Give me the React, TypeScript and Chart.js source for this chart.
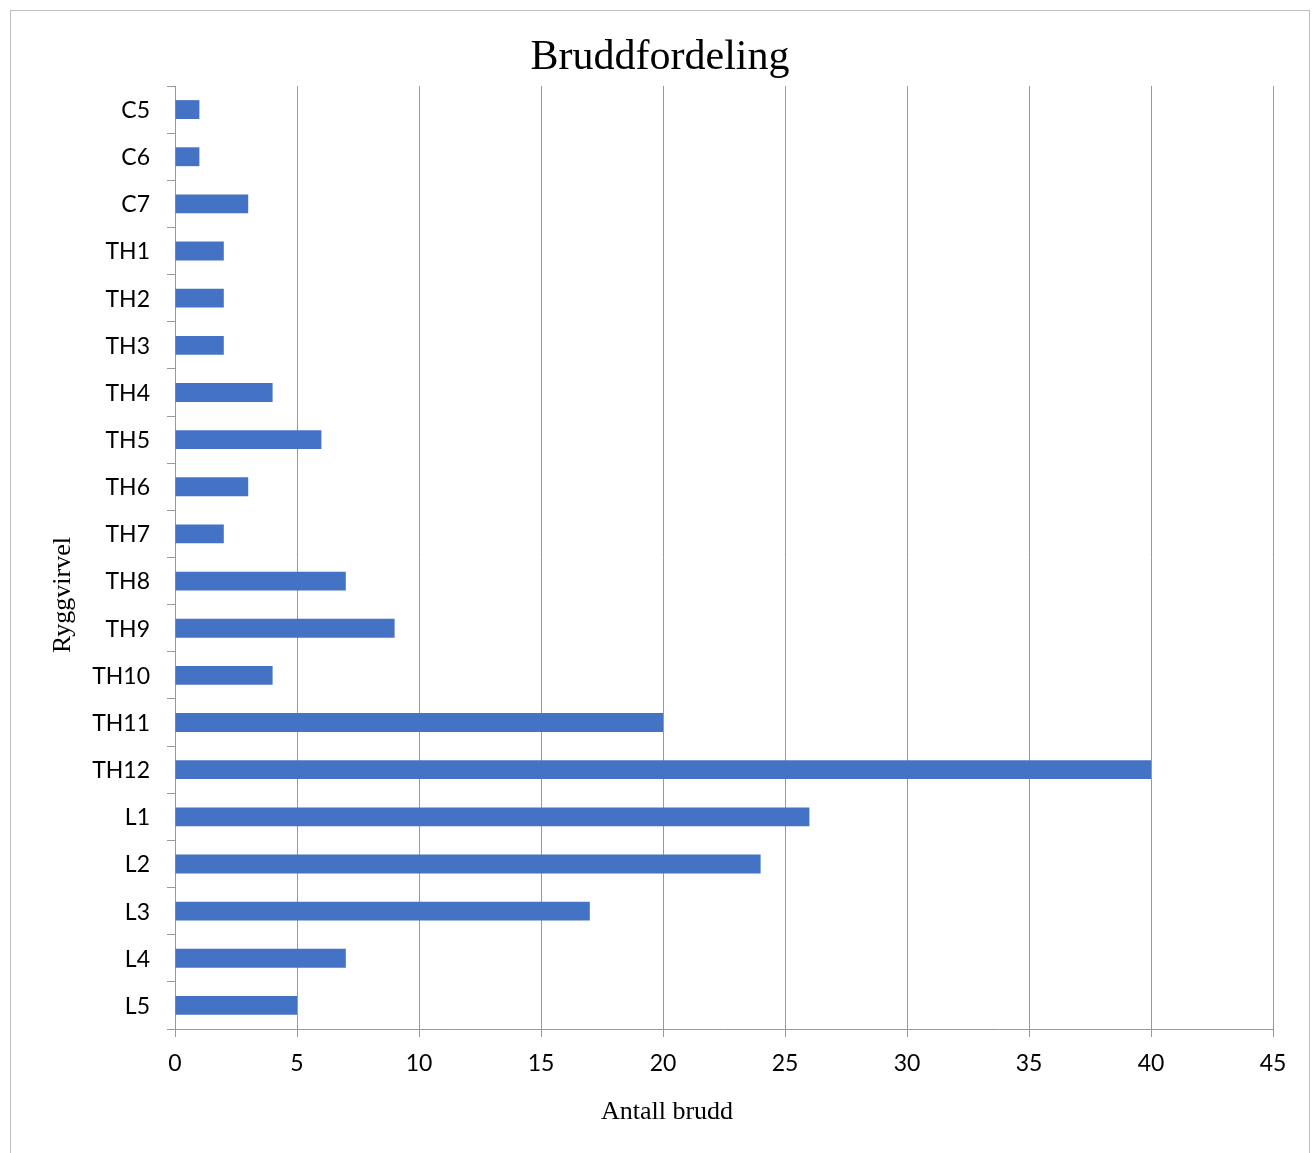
import React, { useEffect, useRef } from "react";
import { Chart, registerables } from "chart.js";

Chart.register(...registerables);

const categories = [
  "C5", "C6", "C7", "TH1", "TH2", "TH3", "TH4", "TH5", "TH6", "TH7",
  "TH8", "TH9", "TH10", "TH11", "TH12", "L1", "L2", "L3", "L4", "L5",
];
const fractures = [1, 1, 3, 2, 2, 2, 4, 6, 3, 2, 7, 9, 4, 20, 40, 26, 24, 17, 7, 5];
const xMin = 0;
const xMax = 45;
const xStep = 5;
const chartTitle = "Bruddfordeling";
const xTitle = "Antall brudd";
const yTitle = "Ryggvirvel";

const W = 1316;
const H = 1153;

const titlesPlugin = {
  id: "excelTitles",
  afterDraw(chart: any) {
    const ctx = chart.ctx;
    ctx.save();
    ctx.fillStyle = "#000";
    ctx.textAlign = "center";
    ctx.textBaseline = "alphabetic";
    ctx.font = '42px "Liberation Serif"';
    ctx.fillText(chartTitle, 660, 69);
    ctx.font = '26px "Liberation Serif"';
    ctx.fillText(xTitle, 667, 1119);
    ctx.translate(70, 595);
    ctx.rotate(-Math.PI / 2);
    ctx.fillText(yTitle, 0, 0);
    ctx.restore();
  },
};

export default function App() {
  const ref = useRef<HTMLCanvasElement | null>(null);
  useEffect(() => {
    if (!ref.current) return;
    const chart = new Chart(ref.current, {
      type: "bar",
      data: {
        labels: categories,
        datasets: [
          {
            label: "Antall brudd",
            data: fractures,
            backgroundColor: "#4472C4",
            borderWidth: 0,
            categoryPercentage: 1,
            barPercentage: 0.4,
          },
        ],
      },
      options: {
        indexAxis: "y",
        responsive: false,
        animation: false,
        layout: { padding: { left: 10, right: 43, top: 86, bottom: 0 } },
        plugins: {
          legend: { display: false },
          title: { display: false },
          tooltip: { enabled: false },
        },
        scales: {
          x: {
            min: xMin,
            max: xMax,
            ticks: {
              stepSize: xStep,
              color: "#000",
              font: { family: "Lato", size: 23 },
              padding: 13,
            },
            grid: {
              color: "#999999",
              lineWidth: 1,
              tickLength: 8,
              drawOnChartArea: true,
            },
            border: { display: true, color: "#999999", width: 1 },
            afterFit(scale: any) {
              scale.height = 124;
            },
          },
          y: {
            ticks: {
              color: "#000",
              font: { family: "Lato", size: 23 },
              padding: 17,
              labelOffset: 1,
              autoSkip: false,
            },
            grid: {
              offset: true,
              drawOnChartArea: false,
              color: "#999999",
              tickLength: 8,
            },
            border: { display: true, color: "#999999", width: 1 },
            afterFit(scale: any) {
              scale.width = 165;
            },
          },
        },
      },
      plugins: [titlesPlugin],
    });
    return () => chart.destroy();
  }, []);

  return (
    <div>
      <div
        style={{
          position: "fixed",
          left: 10,
          top: 10,
          width: 1298,
          height: 1143,
          borderLeft: "1px solid #bfbfbf",
          borderTop: "1px solid #bfbfbf",
          borderRight: "1px solid #bfbfbf",
          boxSizing: "content-box",
          background: "#fff",
        }}
      />
      <canvas
        ref={ref}
        width={W}
        height={H}
        style={{ position: "fixed", left: 0, top: 0, width: W, height: H }}
      />
    </div>
  );
}
